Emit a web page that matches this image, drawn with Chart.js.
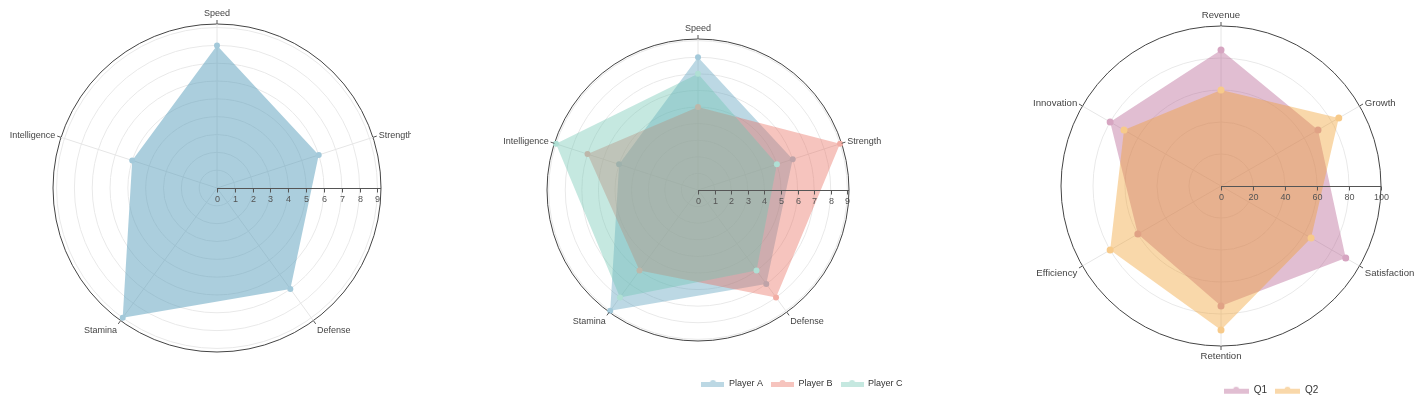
<!DOCTYPE html>
<html>
<head>
<meta charset="utf-8">
<title>Radar charts</title>
<script src="https://cdn.jsdelivr.net/npm/chart.js@4.4.1/dist/chart.umd.min.js"></script>
<style>
  html, body { margin: 0; padding: 0; background: #fff; }
  body { width: 1423px; height: 403px; position: relative; overflow: hidden; }
  .clip { position: absolute; top: 0; height: 403px; overflow: hidden; }
  .box { position: absolute; top: 0; height: 403px; }
</style>
</head>
<body>
<div class="clip" style="left:0;width:411px">
  <div class="box" style="left:0;width:434px"><canvas id="chartSingle"></canvas></div>
</div>
<div class="box" style="left:484px;width:428px"><canvas id="chartPlayers"></canvas></div>
<div class="box" style="left:1021px;width:400px"><canvas id="chartQuarters"></canvas></div>

<script>
// data
const skills = ['Speed', 'Strength', 'Defense', 'Stamina', 'Intelligence'];
const skillTicks = [0, 1, 2, 3, 4, 5, 6, 7, 8, 9];
const playerA = [8, 6, 7, 9, 5];
const playerB = [5, 9, 8, 6, 7];
const playerC = [7, 5, 6, 8, 9];

const metrics = ['Revenue', 'Growth', 'Satisfaction', 'Retention', 'Efficiency', 'Innovation'];
const metricTicks = [0, 20, 40, 60, 80, 100];
const q1 = [85, 70, 90, 75, 60, 80];
const q2 = [60, 85, 65, 90, 80, 70];

// styles
const FONT = "'Liberation Sans', Arial, sans-serif";
const BLUE = [87, 157, 187];
const RED = [232, 107, 92];
const TEAL = [110, 197, 177];
const PURPLE = [180, 92, 142];
const ORANGE = [240, 158, 43];

Chart.defaults.font.family = FONT;
Chart.defaults.color = '#333';

const rgba = (c, a) => `rgba(${c[0]},${c[1]},${c[2]},${a})`;
// opaque colour, as if c were painted with alpha a on white
const tint = (c, a) => `rgb(${c.map(v => Math.round(255 - a * (255 - v))).join(',')})`;

function radarSet(label, data, color, alpha, radius) {
  return {
    label: label,
    data: data,
    fill: true,
    backgroundColor: rgba(color, alpha),
    borderColor: 'transparent',
    borderWidth: 0,
    pointRadius: radius,
    pointBorderWidth: 0,
    pointBorderColor: 'transparent',
    pointBackgroundColor: tint(color, 0.55)
  };
}

function radialScale(max, ticks) {
  return {
    min: 0,
    max: max,
    afterBuildTicks: (scale) => {
      const vals = ticks[ticks.length - 1] < max ? ticks.concat([max]) : ticks;
      scale.ticks = vals.map(v => ({ value: v }));
    },
    ticks: { display: false },
    pointLabels: { display: false },
    grid: {
      circular: true,
      lineWidth: 1,
      color: (c) => (c.tick && c.tick.value === max ? '#444' : '#e9e9e9')
    },
    angleLines: { color: '#e6e6e6', lineWidth: 1 }
  };
}

function legendIcon(color, w) {
  const c = document.createElement('canvas');
  c.width = w;
  c.height = 10;
  const g = c.getContext('2d');
  g.fillStyle = rgba(color, 0.4);
  g.beginPath();
  g.rect(0, 3, w, 5);
  g.moveTo(w / 2 + 3, 4);
  g.arc(w / 2, 4, 3, 0, Math.PI * 2);
  g.fill();
  return c;
}

// axis names with small ticks on the rim, plus a horizontal value axis
const radarDecor = {
  id: 'radarDecor',
  afterDatasetsDraw(chart, args, opts) {
    const scale = chart.scales.r;
    const ctx = chart.ctx;
    const R = scale.drawingArea;
    const cx = scale.xCenter;
    const cy = scale.yCenter;
    ctx.save();
    ctx.lineWidth = 1;
    ctx.strokeStyle = '#555';

    ctx.font = `${opts.labelSize}px ${FONT}`;
    ctx.fillStyle = '#444';
    chart.data.labels.forEach((text, i) => {
      const a = scale.getPointPosition(i, R);
      const b = scale.getPointPosition(i, R + 4);
      ctx.beginPath();
      ctx.moveTo(a.x, a.y);
      ctx.lineTo(b.x, b.y);
      ctx.stroke();
      const d = R + 6;
      const p = scale.getPointPosition(i, d);
      const cos = (p.x - cx) / d;
      const sin = (cy - p.y) / d;
      ctx.textAlign = Math.abs(cos) < 0.1 ? 'center' : (cos > 0 ? 'left' : 'right');
      ctx.textBaseline = sin > 0.9 ? 'bottom' : (sin < -0.1 ? 'top' : 'middle');
      ctx.fillText(text, p.x, p.y);
    });

    const y = cy + 0.5;
    ctx.beginPath();
    ctx.moveTo(cx, y);
    ctx.lineTo(cx + R, y);
    ctx.stroke();
    ctx.font = `9px ${FONT}`;
    ctx.fillStyle = '#555';
    ctx.textAlign = 'center';
    ctx.textBaseline = 'top';
    opts.values.forEach(v => {
      const x = Math.round(cx + scale.getDistanceFromCenterForValue(v)) + 0.5;
      ctx.beginPath();
      ctx.moveTo(x, y);
      ctx.lineTo(x, y + 4);
      ctx.stroke();
      ctx.fillText(String(v), x, cy + 7);
    });
    ctx.restore();
  }
};

// move the legend to a fixed spot once the layout is done
const legendPlace = {
  id: 'legendPlace',
  afterLayout(chart, args, opts) {
    const lg = chart.legend;
    if (!lg || opts.centerX === undefined) return;
    const w = lg.right - lg.left;
    const h = lg.bottom - lg.top;
    lg.left = opts.centerX - w / 2;
    lg.right = lg.left + w;
    lg.top = opts.top;
    lg.bottom = opts.top + h;
  }
};

function legendLabels(colors, size, iconWidth) {
  return {
    usePointStyle: true,
    pointStyleWidth: iconWidth,
    padding: 8,
    color: '#333',
    font: { size: size },
    sort: (a, b) => a.datasetIndex - b.datasetIndex,
    generateLabels: (chart) =>
      Chart.defaults.plugins.legend.labels.generateLabels(chart).map(item =>
        Object.assign({}, item, { pointStyle: legendIcon(colors[item.datasetIndex], iconWidth) }))
  };
}

const single = new Chart(
  document.getElementById('chartSingle'),
  {
    type: 'radar',
    data: {
      labels: skills,
      datasets: [radarSet('Player A', playerA, BLUE, 0.5, 3)]
    },
    options: {
      responsive: true,
      maintainAspectRatio: false,
      animation: false,
      events: [],
      layout: { padding: { top: 24, bottom: 51 } },
      scales: { r: radialScale(9.2, skillTicks) },
      plugins: {
        legend: { display: false },
        tooltip: { enabled: false },
        radarDecor: { labelSize: 9, values: skillTicks }
      }
    },
    plugins: [radarDecor]
  });

const playerColors = [BLUE, RED, TEAL];
const players = new Chart(
  document.getElementById('chartPlayers'),
  {
    type: 'radar',
    data: {
      labels: skills,
      datasets: [
        Object.assign(radarSet('Player A', playerA, BLUE, 0.4, 3), { order: 3 }),
        Object.assign(radarSet('Player B', playerB, RED, 0.4, 3), { order: 2 }),
        Object.assign(radarSet('Player C', playerC, TEAL, 0.4, 3), { order: 1 })
      ]
    },
    options: {
      responsive: true,
      maintainAspectRatio: false,
      animation: false,
      events: [],
      layout: { padding: { top: 39, bottom: 35 } },
      scales: { r: radialScale(9.1, skillTicks) },
      plugins: {
        legend: { position: 'bottom', labels: legendLabels(playerColors, 9, 23) },
        tooltip: { enabled: false },
        legendPlace: { centerX: 318, top: 371.5 },
        radarDecor: { labelSize: 9, values: skillTicks }
      }
    },
    plugins: [radarDecor, legendPlace]
  });

const quarterColors = [PURPLE, ORANGE];
const quarters = new Chart(
  document.getElementById('chartQuarters'),
  {
    type: 'radar',
    data: {
      labels: metrics,
      datasets: [
        Object.assign(radarSet('Q1', q1, PURPLE, 0.4, 3.5), { order: 2 }),
        Object.assign(radarSet('Q2', q2, ORANGE, 0.4, 3.5), { order: 1 })
      ]
    },
    options: {
      responsive: true,
      maintainAspectRatio: false,
      animation: false,
      events: [],
      layout: { padding: { top: 26, bottom: 29 } },
      scales: { r: radialScale(100, metricTicks) },
      plugins: {
        legend: { position: 'bottom', labels: legendLabels(quarterColors, 10, 25) },
        tooltip: { enabled: false },
        legendPlace: { centerX: 250, top: 377.7 },
        radarDecor: { labelSize: 9.6, values: metricTicks }
      }
    },
    plugins: [radarDecor, legendPlace]
  });
</script>
</body>
</html>
